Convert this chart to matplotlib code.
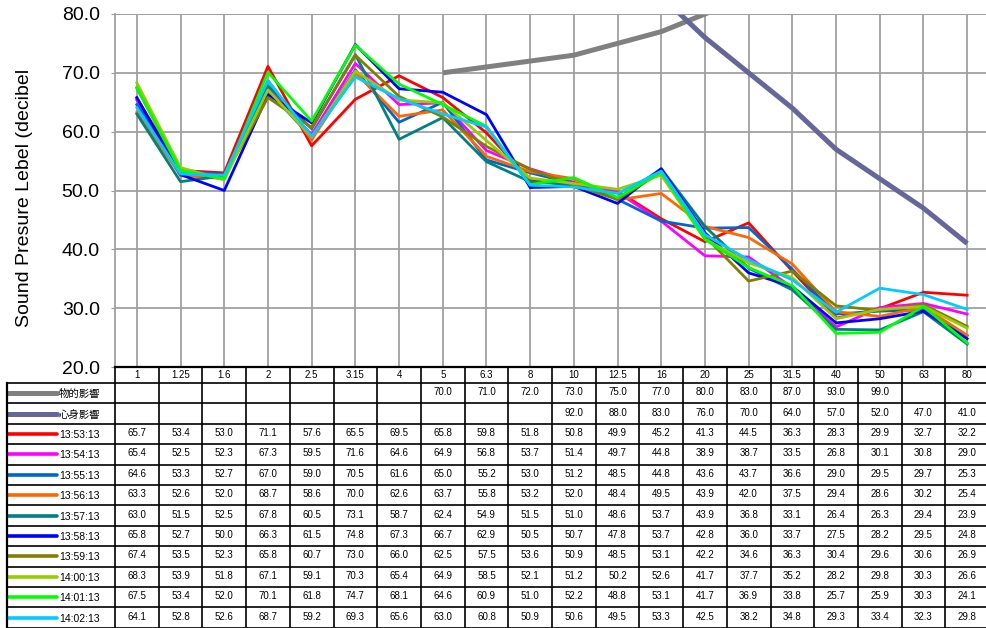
import matplotlib
matplotlib.use('Agg')
import matplotlib.pyplot as plt

plt.rcParams['font.family'] = ['Liberation Sans', 'Noto Sans CJK JP', 'DejaVu Sans']

# 1/3 octave band centre frequencies (Hz)
freqs = ['1', '1.25', '1.6', '2', '2.5', '3.15', '4', '5', '6.3', '8',
         '10', '12.5', '16', '20', '25', '31.5', '40', '50', '63', '80']

# reference curves (None = no value)
physical = [None] * 7 + [70.0, 71.0, 72.0, 73.0, 75.0, 77.0, 80.0, 83.0, 87.0, 93.0, 99.0, None, None]
mental = [None] * 10 + [92.0, 88.0, 83.0, 76.0, 70.0, 64.0, 57.0, 52.0, 47.0, 41.0]

times = ['13:53:13', '13:54:13', '13:55:13', '13:56:13', '13:57:13',
         '13:58:13', '13:59:13', '14:00:13', '14:01:13', '14:02:13']
levels = [
    [65.7, 53.4, 53.0, 71.1, 57.6, 65.5, 69.5, 65.8, 59.8, 51.8, 50.8, 49.9, 45.2, 41.3, 44.5, 36.3, 28.3, 29.9, 32.7, 32.2],
    [65.4, 52.5, 52.3, 67.3, 59.5, 71.6, 64.6, 64.9, 56.8, 53.7, 51.4, 49.7, 44.8, 38.9, 38.7, 33.5, 26.8, 30.1, 30.8, 29.0],
    [64.6, 53.3, 52.7, 67.0, 59.0, 70.5, 61.6, 65.0, 55.2, 53.0, 51.2, 48.5, 44.8, 43.6, 43.7, 36.6, 29.0, 29.5, 29.7, 25.3],
    [63.3, 52.6, 52.0, 68.7, 58.6, 70.0, 62.6, 63.7, 55.8, 53.2, 52.0, 48.4, 49.5, 43.9, 42.0, 37.5, 29.4, 28.6, 30.2, 25.4],
    [63.0, 51.5, 52.5, 67.8, 60.5, 73.1, 58.7, 62.4, 54.9, 51.5, 51.0, 48.6, 53.7, 43.9, 36.8, 33.1, 26.4, 26.3, 29.4, 23.9],
    [65.8, 52.7, 50.0, 66.3, 61.5, 74.8, 67.3, 66.7, 62.9, 50.5, 50.7, 47.8, 53.7, 42.8, 36.0, 33.7, 27.5, 28.2, 29.5, 24.8],
    [67.4, 53.5, 52.3, 65.8, 60.7, 73.0, 66.0, 62.5, 57.5, 53.6, 50.9, 48.5, 53.1, 42.2, 34.6, 36.3, 30.4, 29.6, 30.6, 26.9],
    [68.3, 53.9, 51.8, 67.1, 59.1, 70.3, 65.4, 64.9, 58.5, 52.1, 51.2, 50.2, 52.6, 41.7, 37.7, 35.2, 28.2, 29.8, 30.3, 26.6],
    [67.5, 53.4, 52.0, 70.1, 61.8, 74.7, 68.1, 64.6, 60.9, 51.0, 52.2, 48.8, 53.1, 41.7, 36.9, 33.8, 25.7, 25.9, 30.3, 24.1],
    [64.1, 52.8, 52.6, 68.7, 59.2, 69.3, 65.6, 63.0, 60.8, 50.9, 50.6, 49.5, 53.3, 42.5, 38.2, 34.8, 29.3, 33.4, 32.3, 29.8],
]
colors = ['#FF0000', '#FF00FF', '#0066CC', '#FF6600', '#008080',
          '#0000FF', '#808000', '#99CC00', '#00FF00', '#00CCFF']

W, H = 986, 628


def box(x0, y0, x1, y1):
    return [x0 / W, 1 - y1 / H, (x1 - x0) / W, (y1 - y0) / H]


fig = plt.figure(figsize=(W / 100, H / 100), dpi=100)
ax = fig.add_axes(box(115, 14, 989, 367))
n = len(freqs)
xs = list(range(n))

def split(vals):
    px, py = [], []
    for i, v in enumerate(vals):
        if v is not None:
            px.append(i)
            py.append(v)
    return px, py

ax.plot(*split(physical), color='#808080', lw=3.6, solid_capstyle='butt')
ax.plot(*split(mental), color='#666699', lw=3.6, solid_capstyle='butt')
for vals, c in zip(levels, colors):
    ax.plot(xs, vals, color=c, lw=2.0)

ax.set_xlim(-0.5, n - 0.5)
ax.set_ylim(20, 80)
ax.set_yticks(range(20, 81, 10))
ax.set_yticklabels(['%.1f' % v for v in range(20, 81, 10)], fontsize=14)
ax.set_xticks(xs)
ax.set_xticklabels([])
ax.tick_params(axis='x', length=0)
ax.tick_params(axis='y', length=3, color='#999999', pad=8)
ax.grid(True, color='#A0A0A0', lw=1.3)
ax.set_axisbelow(True)
for s in ['top', 'right']:
    ax.spines[s].set_visible(False)
ax.spines['left'].set_color('#A0A0A0')
ax.spines['left'].set_linewidth(1.3)
ax.spines['bottom'].set_visible(False)
ax.axhline(80, color='#A0A0A0', lw=1.3)
fig.text(25 / W, 1 - 198 / H, 'Sound Presure Lebel (decibel', rotation=90,
         ha='center', va='center', fontsize=14)

# data table under the plot
tab = fig.add_axes(box(115, 367, 989, 628))
tab.set_xlim(-0.5, n - 0.5)
tab.set_ylim(261, 0)
tab.axis('off')
unit = 874 / n
left = -0.5 - 108 / unit
key_end = -0.5 - 58 / unit
text_x = -0.5 - 56 / unit
hdr = 16
rh = 20.4
lc = 'black'
lw = 1.2

for i in range(n + 1):
    tab.plot([i - 0.5, i - 0.5], [0, 261], color=lc, lw=lw, clip_on=False)
tab.plot([-0.5, n - 0.5], [0, 0], color=lc, lw=1.6, clip_on=False)
for i, f in enumerate(freqs):
    tab.text(i, hdr / 2 + 0.5, f, ha='center', va='center', fontsize=7)

rows = [('物的影響', '#808080', physical), ('心身影響', '#666699', mental)]
rows += list(zip(times, colors, levels))
for r, (name, c, vals) in enumerate(rows):
    top = hdr + r * rh
    mid = top + rh / 2
    tab.plot([left, n - 0.5], [top, top], color=lc, lw=lw, clip_on=False)
    tab.plot([left + 0.03, key_end], [mid, mid], color=c,
             lw=3.6 if r < 2 else 2.6, clip_on=False, solid_capstyle='round')
    tab.text(text_x, mid + 1, name, ha='left', va='center', fontsize=7.5, clip_on=False)
    for i, v in enumerate(vals):
        if v is not None:
            tab.text(i, mid - 1, '%.1f' % v, ha='center', va='center', fontsize=7)
tab.plot([left, n - 0.5], [261, 261], color=lc, lw=lw, clip_on=False)
tab.plot([left, left], [hdr, 261], color=lc, lw=1.6, clip_on=False)

fig.savefig('out.png', dpi=100)
